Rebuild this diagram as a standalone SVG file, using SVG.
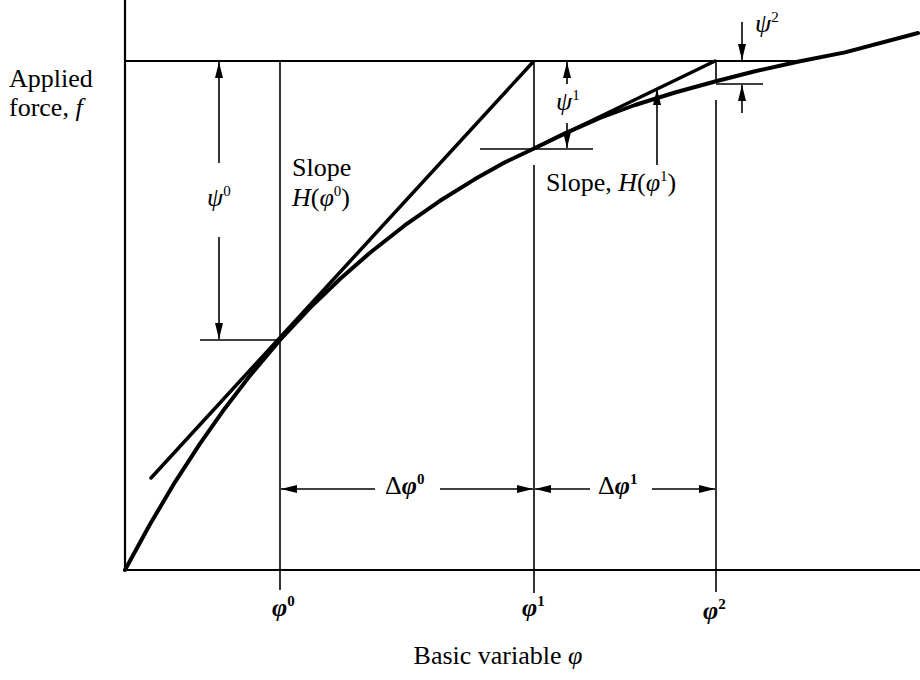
<svg xmlns="http://www.w3.org/2000/svg" width="920" height="680" viewBox="0 0 920 680">
<style>
  .ax { stroke:#000; stroke-width:2.2; fill:none; }
  .thin { stroke:#000; stroke-width:1.6; fill:none; }
  .curve { stroke:#000; stroke-width:4; fill:none; stroke-linejoin:round; stroke-linecap:round; }
  .tan { stroke:#000; stroke-width:3.5; fill:none; stroke-linecap:round; }
  .dim { stroke:#000; stroke-width:1.6; fill:none; marker-end:url(#ah); }
  text { font-family:"Liberation Serif","Times New Roman",serif; fill:#000; }
  .lbl { font-size:26px; }
  .gk { font-size:26px; font-style:italic; }
  .gb { font-size:26px; font-style:italic; font-weight:bold; }
  .sup { font-size:15px; font-style:normal; }
</style>
<defs>
  <marker id="ah" viewBox="0 0 16 8" refX="16" refY="4" markerWidth="16" markerHeight="8" markerUnits="userSpaceOnUse" orient="auto">
    <path d="M0,0 L16,4 L0,8 Z" fill="#000"/>
  </marker>
</defs>

<g id="axes">
  <line class="ax" x1="125" y1="0" x2="125" y2="570"/>
  <line class="ax" x1="124" y1="570" x2="920" y2="570"/>
  <line class="ax" x1="125" y1="61" x2="800" y2="61"/>
</g>

<g id="verticals">
  <line class="thin" x1="280" y1="61" x2="280" y2="590"/>
  <line class="thin" x1="534" y1="61" x2="534" y2="149"/>
  <line class="thin" x1="534" y1="165" x2="534" y2="593"/>
  <line class="thin" x1="716" y1="61" x2="716" y2="83"/>
  <line class="thin" x1="716" y1="100" x2="716" y2="592"/>
  <line class="thin" x1="200" y1="340" x2="280" y2="340"/>
  <line class="thin" x1="480" y1="149" x2="593" y2="149"/>
  <line class="thin" x1="716" y1="84" x2="763" y2="84"/>
</g>

<g id="curve">
  <polyline class="curve" points="125,570 150,524.2 175,482.1 200,443.6 225,408.2 250,375.6 280,340 310,307.9 340,279 370,252.7 405,225.2 440,200.8 475,179.1 505,162.3 534,148.5 565,133.4 600,118 635,105 675,92.5 716,81.2 755,71.3 800,61.2 845,52.4 918,33"/>
</g>

<g id="tangents">
  <line class="tan" x1="151" y1="478" x2="533" y2="62"/>
  <line class="tan" x1="534" y1="148.5" x2="715" y2="61"/>
</g>

<g id="connectors">
  <line class="dim" x1="219" y1="163" x2="219" y2="62"/>
  <line class="dim" x1="219" y1="237" x2="219" y2="339"/>
  <line class="dim" x1="567" y1="84" x2="567" y2="62"/>
  <line class="dim" x1="567" y1="123" x2="567" y2="148"/>
  <line class="dim" x1="742" y1="22" x2="742" y2="60"/>
  <line class="dim" x1="742" y1="113" x2="742" y2="85"/>
  <line class="dim" x1="657" y1="165" x2="657" y2="89"/>
  <line class="dim" x1="375" y1="489" x2="281" y2="489"/>
  <line class="dim" x1="440" y1="489" x2="533" y2="489"/>
  <line class="dim" x1="590" y1="489" x2="535" y2="489"/>
  <line class="dim" x1="652" y1="489" x2="715" y2="489"/>
</g>

<g id="labels">
  <text class="lbl" x="9" y="87">Applied</text>
  <text class="lbl" x="9" y="116">force, <tspan font-style="italic">f</tspan></text>
  <text class="lbl" x="292" y="176">Slope</text>
  <text class="lbl" x="292" y="206"><tspan font-style="italic">H</tspan>(<tspan font-style="italic">φ</tspan><tspan class="sup" dy="-10">0</tspan><tspan dy="10">)</tspan></text>
  <text class="lbl" x="546" y="191">Slope, <tspan font-style="italic">H</tspan>(<tspan font-style="italic">φ</tspan><tspan class="sup" dy="-10">1</tspan><tspan dy="10">)</tspan></text>
  <text class="gk" x="207" y="206">ψ<tspan class="sup" dy="-10">0</tspan></text>
  <text class="gk" x="556" y="110">ψ<tspan class="sup" dy="-10">1</tspan></text>
  <text class="gk" x="755" y="32">ψ<tspan class="sup" dy="-10">2</tspan></text>
  <text class="gb" x="385" y="494"><tspan font-style="normal" font-weight="normal">Δ</tspan>φ<tspan class="sup" dy="-10">0</tspan></text>
  <text class="gb" x="598" y="494"><tspan font-style="normal" font-weight="normal">Δ</tspan>φ<tspan class="sup" dy="-10">1</tspan></text>
  <text class="gb" x="272" y="616">φ<tspan class="sup" dy="-10">0</tspan></text>
  <text class="gb" x="522" y="616">φ<tspan class="sup" dy="-10">1</tspan></text>
  <text class="gb" x="703" y="619">φ<tspan class="sup" dy="-10">2</tspan></text>
  <text class="lbl" x="498" y="664" text-anchor="middle">Basic variable <tspan font-style="italic">φ</tspan></text>
</g>
</svg>
